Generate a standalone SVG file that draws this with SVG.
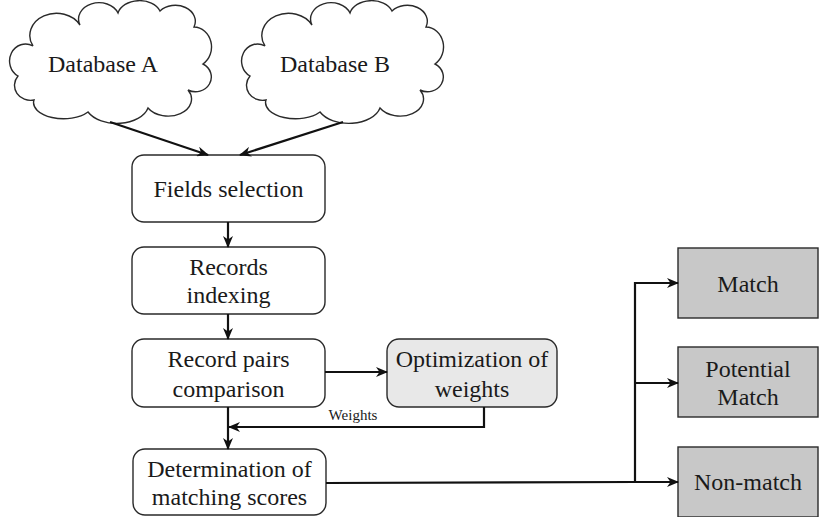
<svg xmlns="http://www.w3.org/2000/svg" width="819" height="517" viewBox="0 0 819 517">
  <style>
    text { font-family: 'Liberation Serif', 'DejaVu Serif', 'Times New Roman', serif; fill: #1a1a1a; text-anchor: middle; }
    .lbl { font-size: 24px; }
    .small { font-size: 15px; }
    .box { fill: #ffffff; stroke: #2a2a2a; stroke-width: 1.4; }
    .opt { fill: #e8e8e8; stroke: #2a2a2a; stroke-width: 1.4; }
    .out { fill: #c8c8c8; stroke: #2a2a2a; stroke-width: 1.4; }
    .cloud { fill: #ffffff; stroke: #2a2a2a; stroke-width: 1.4; }
    .wire { fill: none; stroke: #111111; stroke-width: 2.2; }
  </style>
  <defs>
    <marker id="arrow" viewBox="0 0 12 10" refX="11" refY="5" markerWidth="12" markerHeight="10" markerUnits="userSpaceOnUse" orient="auto">
      <path d="M0,0 L12,5 L0,10 L3.5,5 Z" fill="#111111"/>
    </marker>
    <path id="cloudShape" d="M33,46 A24,20 0 0 1 80,25 A20,16 0 0 1 118,13 A22,16 0 0 1 160,11 A20,16 0 0 1 194,27 A18,20 0 0 1 203,64 A15,14 0 0 1 188,90 A22,16 0 0 1 148,108 A32,20 0 0 1 88,112 A30,16 0 0 1 34,100 A16,15 0 0 1 18,76 A15,16 0 0 1 33,46 Z"/>
  </defs>

  <!-- source databases -->
  <g id="database-a">
    <use href="#cloudShape" class="cloud"/>
    <text class="lbl" x="103" y="72">Database A</text>
  </g>
  <g id="database-b">
    <use href="#cloudShape" class="cloud" transform="translate(232,0)"/>
    <text class="lbl" x="335" y="72">Database B</text>
  </g>

  <!-- processing steps -->
  <g id="fields-selection">
    <rect class="box" x="132" y="155" width="193" height="67" rx="12"/>
    <text class="lbl" x="228.5" y="197">Fields selection</text>
  </g>
  <g id="records-indexing">
    <rect class="box" x="132" y="247" width="193" height="67" rx="12"/>
    <text class="lbl" x="228.5" y="275">Records</text>
    <text class="lbl" x="228.5" y="303">indexing</text>
  </g>
  <g id="record-pairs-comparison">
    <rect class="box" x="132" y="339" width="193" height="68" rx="12"/>
    <text class="lbl" x="228.5" y="367">Record pairs</text>
    <text class="lbl" x="228.5" y="397">comparison</text>
  </g>
  <g id="optimization-of-weights">
    <rect class="opt" x="387" y="339" width="170" height="68" rx="12"/>
    <text class="lbl" x="472" y="367">Optimization of</text>
    <text class="lbl" x="472" y="397">weights</text>
  </g>
  <g id="determination-of-matching-scores">
    <rect class="box" x="133" y="449" width="193" height="66" rx="12"/>
    <text class="lbl" x="229.5" y="477">Determination of</text>
    <text class="lbl" x="229.5" y="505">matching scores</text>
  </g>

  <!-- classification outcomes -->
  <g id="match">
    <rect class="out" x="678" y="248" width="140" height="70"/>
    <text class="lbl" x="748" y="292">Match</text>
  </g>
  <g id="potential-match">
    <rect class="out" x="678" y="347" width="140" height="70"/>
    <text class="lbl" x="748" y="377">Potential</text>
    <text class="lbl" x="748" y="405">Match</text>
  </g>
  <g id="non-match">
    <rect class="out" x="678" y="447" width="140" height="70"/>
    <text class="lbl" x="748" y="490">Non-match</text>
  </g>

  <!-- connectors -->
  <g id="connectors">
    <path class="wire" d="M110,122 L208,155" marker-end="url(#arrow)"/>
    <path class="wire" d="M343,122 L240,155" marker-end="url(#arrow)"/>
    <path class="wire" d="M228,222 L228,247" marker-end="url(#arrow)"/>
    <path class="wire" d="M228,314 L228,339" marker-end="url(#arrow)"/>
    <path class="wire" d="M228,407 L228,449" marker-end="url(#arrow)"/>
    <path class="wire" d="M325,372 L387,372" marker-end="url(#arrow)"/>
    <path class="wire" d="M484,407 L484,427 L229,427" marker-end="url(#arrow)"/>
    <text class="small" x="353" y="420">Weights</text>
    <path class="wire" d="M326,483 L635,482 L678,482" marker-end="url(#arrow)"/>
    <path class="wire" d="M635,482 L635,283 L678,283" marker-end="url(#arrow)"/>
    <path class="wire" d="M635,383 L678,383" marker-end="url(#arrow)"/>
  </g>
</svg>
